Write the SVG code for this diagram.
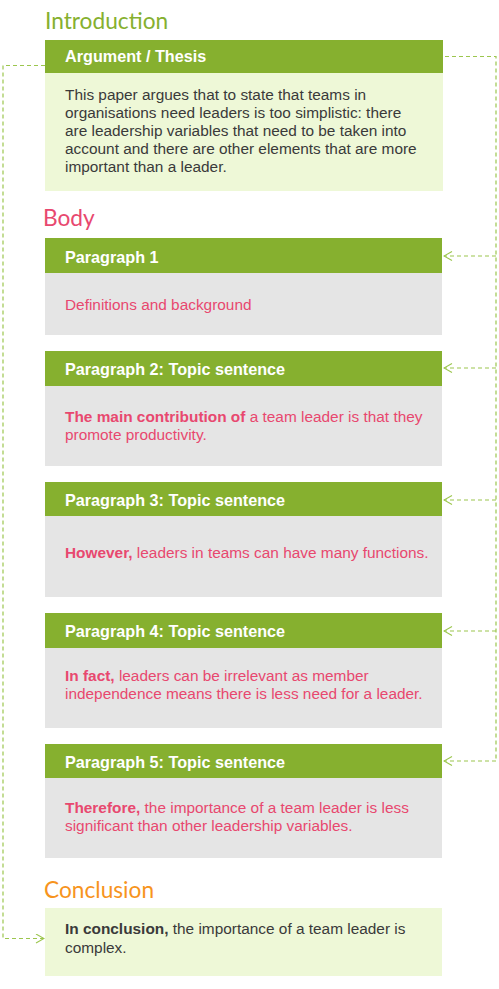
<svg xmlns="http://www.w3.org/2000/svg" width="499" height="989" viewBox="0 0 499 989">
  <style>
    .sec { font-family: Lato, "Noto Sans", sans-serif; font-size: 22.7px; }
    .hdr { fill: #86b02f; }
    .htx { font-family: "Liberation Sans", Arial, sans-serif; font-size: 16.2px; font-weight: bold; fill: #ffffff; }
    .txt { font-family: "Liberation Sans", Arial, sans-serif; font-size: 15.4px; }
    .dark { fill: #3a3a3a; }
    .pink { fill: #e8486f; }
    .b { font-weight: bold; }
    .green-bg { fill: #eef8d7; }
    .grey-bg { fill: #e5e5e5; }
    .link { fill: none; stroke: #9cc64e; stroke-width: 1.2; stroke-dasharray: 4 3; }
  </style>
  <defs>
    <marker id="chev" viewBox="0 0 10 10" refX="9" refY="5" markerWidth="10" markerHeight="10" markerUnits="userSpaceOnUse" orient="auto">
      <path d="M1,0.5 L9,5 L1,9.5" fill="none" stroke="#9cc64e" stroke-width="1.1"/>
    </marker>
  </defs>

  <rect width="499" height="989" fill="#ffffff"/>

  <!-- section titles -->
  <text class="sec" x="45" y="29" fill="#86b02f">Introduction</text>
  <text class="sec" x="43" y="226" fill="#e8486f">Body</text>
  <text class="sec" x="44" y="898" fill="#f7941d">Conclusion</text>

  <!-- connectors -->
  <g id="connectors">
    <path class="link" d="M45,65.5 H3 V938.5 H44" marker-end="url(#chev)"/>
    <path class="link" d="M445,56.5 H496 V761"/>
    <path class="link" d="M496,256 H444" marker-end="url(#chev)"/>
    <path class="link" d="M496,368 H444" marker-end="url(#chev)"/>
    <path class="link" d="M496,500 H444" marker-end="url(#chev)"/>
    <path class="link" d="M496,631 H444" marker-end="url(#chev)"/>
    <path class="link" d="M496,761 H444" marker-end="url(#chev)"/>
  </g>

  <g id="thesis">
    <rect class="green-bg" x="45" y="73" width="398" height="118"/>
    <rect class="hdr" x="45" y="40" width="398" height="33"/>
    <text class="htx" x="65" y="62">Argument / Thesis</text>
    <text class="txt dark">
      <tspan x="65" y="100">This paper argues that to state that teams in</tspan>
      <tspan x="65" y="118">organisations need leaders is too simplistic: there</tspan>
      <tspan x="65" y="136">are leadership variables that need to be taken into</tspan>
      <tspan x="65" y="154">account and there are other elements that are more</tspan>
      <tspan x="65" y="172">important than a leader.</tspan>
    </text>
  </g>

  <g id="paragraph1">
    <rect class="grey-bg" x="45" y="273" width="397" height="62"/>
    <rect class="hdr" x="45" y="238" width="397" height="35"/>
    <text class="htx" x="65" y="263">Paragraph 1</text>
    <text class="txt pink" x="65" y="310">Definitions and background</text>
  </g>

  <g id="paragraph2">
    <rect class="grey-bg" x="45" y="386" width="397" height="80"/>
    <rect class="hdr" x="45" y="351" width="397" height="35"/>
    <text class="htx" x="65" y="375">Paragraph 2: Topic sentence</text>
    <text class="txt pink">
      <tspan x="65" y="422"><tspan class="b">The main contribution of</tspan> a team leader is that they</tspan>
      <tspan x="65" y="440">promote productivity.</tspan>
    </text>
  </g>

  <g id="paragraph3">
    <rect class="grey-bg" x="45" y="516" width="397" height="81"/>
    <rect class="hdr" x="45" y="482" width="397" height="34"/>
    <text class="htx" x="65" y="506">Paragraph 3: Topic sentence</text>
    <text class="txt pink" x="65" y="558"><tspan class="b">However,</tspan> leaders in teams can have many functions.</text>
  </g>

  <g id="paragraph4">
    <rect class="grey-bg" x="45" y="648" width="397" height="80"/>
    <rect class="hdr" x="45" y="613" width="397" height="35"/>
    <text class="htx" x="65" y="637">Paragraph 4: Topic sentence</text>
    <text class="txt pink">
      <tspan x="65" y="681"><tspan class="b">In fact,</tspan> leaders can be irrelevant as member</tspan>
      <tspan x="65" y="699">independence means there is less need for a leader.</tspan>
    </text>
  </g>

  <g id="paragraph5">
    <rect class="grey-bg" x="45" y="778" width="397" height="80"/>
    <rect class="hdr" x="45" y="744" width="397" height="34"/>
    <text class="htx" x="65" y="768">Paragraph 5: Topic sentence</text>
    <text class="txt pink">
      <tspan x="65" y="813"><tspan class="b">Therefore,</tspan> the importance of a team leader is less</tspan>
      <tspan x="65" y="831">significant than other leadership variables.</tspan>
    </text>
  </g>

  <g id="conclusion">
    <rect class="green-bg" x="45" y="908" width="397" height="68"/>
    <text class="txt dark">
      <tspan x="65" y="934"><tspan class="b">In conclusion,</tspan> the importance of a team leader is</tspan>
      <tspan x="65" y="953">complex.</tspan>
    </text>
  </g>
</svg>
